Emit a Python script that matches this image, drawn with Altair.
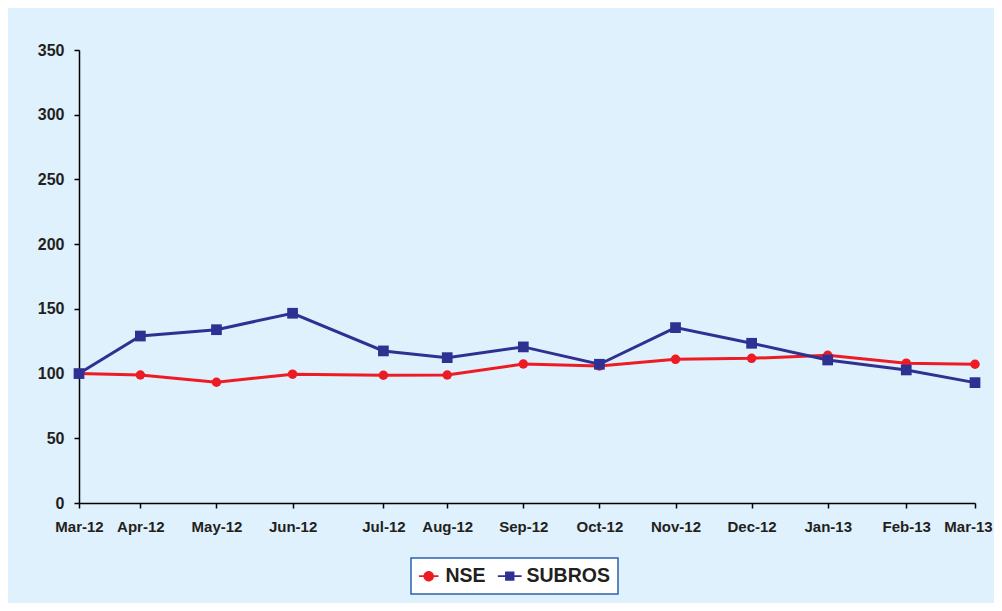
import altair as alt
import pandas as pd

# ---- data ----
months = ["Mar-12", "Apr-12", "May-12", "Jun-12", "Jul-12", "Aug-12", "Sep-12",
          "Oct-12", "Nov-12", "Dec-12", "Jan-13", "Feb-13", "Mar-13"]
# day offset of each observation from the first one (axis is date-spaced)
day_index = [0, 25, 56, 87, 124, 150, 181, 212, 243, 274, 305, 337, 365]
nse = [100, 98.9, 93.3, 99.5, 98.7, 98.9, 107.4, 105.9, 111.0, 111.8, 114.1, 108.0, 107.2]
subros = [100, 129.0, 133.9, 146.6, 117.5, 112.3, 120.6, 107.2, 135.5, 123.4, 110.5, 102.8, 93.0]
y_ticks = [0, 50, 100, 150, 200, 250, 300, 350]

series_names = ["NSE", "SUBROS"]
series_colors = ["#ED1C24", "#2E3192"]
legend_paths = [
    "M-1.4,-0.11H1.4V0.11H-1.4Z M0.75,0A0.75,0.75,0,1,1,-0.75,0A0.75,0.75,0,1,1,0.75,0Z",
    "M-1.7,-0.11H1.7V0.11H-1.7Z M-0.67,-0.67H0.67V0.67H-0.67Z",
]

rows = []
for m, d, a, b in zip(months, day_index, nse, subros):
    rows.append({"month": m, "day": d, "series": "NSE", "value": a})
    rows.append({"month": m, "day": d, "series": "SUBROS", "value": b})
df = pd.DataFrame(rows)

label_expr = ("[" + ",".join(f"'{m}'" for m in months) + "][indexof(["
              + ",".join(str(d) for d in day_index) + "], datum.value)]")

FONT = "Liberation Sans"
TXT = "#231F20"

x = alt.X("day:Q",
          scale=alt.Scale(domain=[0, 365], nice=False, zero=False),
          axis=alt.Axis(values=day_index, labelExpr=label_expr, title=None, grid=False,
                        tickSize=5, labelPadding=11, labelFontSize=15, labelFont=FONT,
                        labelFontWeight="bold", labelColor=TXT, domainColor="black",
                        tickColor="black", domainWidth=1.5, tickWidth=1.5,
                        labelOverlap=False, labelFlush=False,
                        labelOffset=alt.condition(f"datum.value == {day_index[-1]}",
                                                  alt.value(-7), alt.value(0))))
y = alt.Y("value:Q",
          scale=alt.Scale(domain=[0, 350], nice=False),
          axis=alt.Axis(values=y_ticks, title=None, grid=False, tickSize=5, labelPadding=10,
                        labelFontSize=16, labelFont=FONT, labelFontWeight="bold",
                        labelColor=TXT, domainColor="black", tickColor="black",
                        domainWidth=1.5, tickWidth=1.5))

base = alt.Chart(df).encode(x=x, y=y)


def series_layers(name, color, shape, size):
    sub = base.transform_filter(alt.datum.series == name)
    line = sub.mark_line(color=color, strokeWidth=3)
    pts = sub.mark_point(filled=True, shape=shape, size=size, color=color, opacity=1)
    return [line, pts]


legend_def = alt.Legend(title=None, orient="none", legendX=332, legendY=508,
                        direction="horizontal")
legend_layer = alt.Chart(df).transform_filter("false").mark_point(
    filled=True, opacity=1
).encode(
    color=alt.Color("series:N", scale=alt.Scale(domain=series_names, range=series_colors),
                    legend=legend_def),
    shape=alt.Shape("series:N", scale=alt.Scale(domain=series_names, range=legend_paths),
                    legend=legend_def),
)

layers = (series_layers("NSE", series_colors[0], "circle", 90)
          + series_layers("SUBROS", series_colors[1], "square", 115)
          + [legend_layer])

chart = alt.layer(*layers).properties(
    width=896, height=453,
    background="#DFF1FC",
    autosize=alt.AutoSizeParams(type="none"),
    padding={"left": 71, "top": 42, "right": 19, "bottom": 100},
).configure_view(
    strokeWidth=0
).configure_legend(
    padding=8, strokeColor="#2B62B0", fillColor="white", strokeWidth=1.5,
    symbolSize=196, symbolStrokeWidth=0, labelFont=FONT, labelFontSize=19.5,
    labelFontWeight="bold", labelColor=TXT, labelOffset=7, columnPadding=11,
)

chart.save("out.html", embed_options={"renderer": "svg", "actions": False})
